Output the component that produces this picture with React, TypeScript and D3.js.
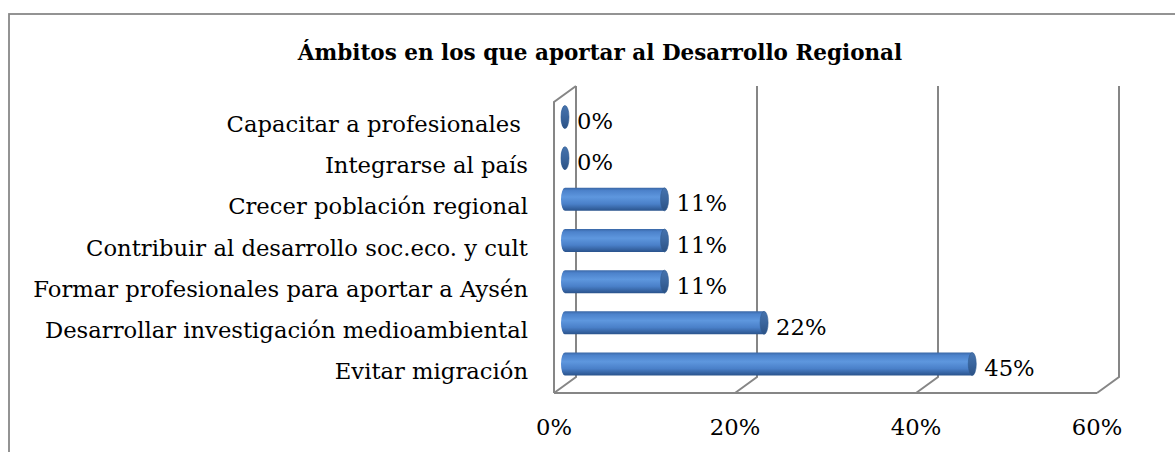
import React, { useRef, useEffect } from 'react';
import * as d3 from 'd3';

const categories = [
  'Capacitar a profesionales ',
  'Integrarse al país',
  'Crecer población regional',
  'Contribuir al desarrollo soc.eco. y cult',
  'Formar profesionales para aportar a Aysén',
  'Desarrollar investigación medioambiental',
  'Evitar migración',
];
const values = [0, 0, 0.11, 0.11, 0.11, 0.22, 0.45];
const valueLabels = ['0%', '0%', '11%', '11%', '11%', '22%', '45%'];
const ticks = [0, 0.2, 0.4, 0.6];
const tickLabels = ['0%', '20%', '40%', '60%'];
const title = 'Ámbitos en los que aportar al Desarrollo Regional';

export default function App() {
  const svgRef = useRef<SVGSVGElement>(null);

  useEffect(() => {
    const w = 1175;
    const h = 452;
    const font = '"DejaVu Serif", serif';
    const svg = d3.select(svgRef.current);
    svg.selectAll('*').remove();
    svg.attr('width', w).attr('height', h).style('display', 'block');

    // 3d depth: front plane vs back wall
    const dx = 11;
    const dy = 8;
    const xMid = d3.scaleLinear().domain([0, 0.6]).range([565, 1108]);
    const xFront = (v: number) => xMid(v) - dx;
    const xBack = (v: number) => xMid(v) + dx;
    const yBars = d3.scalePoint().domain(categories).range([117, 364]);
    const floorMid = 385;
    const wallTop = 94;

    const defs = svg.append('defs');
    const body = defs.append('linearGradient').attr('id', 'cyl')
      .attr('x1', 0).attr('y1', 0).attr('x2', 0).attr('y2', 1);
    [[0, '#3a67a6'], [0.12, '#4c82cb'], [0.4, '#5e97de'], [0.7, '#4a80c9'], [1, '#2a538c']]
      .forEach(([o, c]) => body.append('stop').attr('offset', o).attr('stop-color', c));
    const cap = defs.append('linearGradient').attr('id', 'cap')
      .attr('x1', 0).attr('y1', 0).attr('x2', 0).attr('y2', 1);
    [[0, '#4673ad'], [0.5, '#3a659d'], [1, '#2b5184']]
      .forEach(([o, c]) => cap.append('stop').attr('offset', o).attr('stop-color', c));

    // outer border
    svg.append('rect')
      .attr('x', 9).attr('y', 14).attr('width', w).attr('height', h)
      .attr('fill', 'none').attr('stroke', '#888').attr('stroke-width', 1.8);

    // title
    svg.append('text')
      .attr('x', 600).attr('y', 60)
      .attr('text-anchor', 'middle')
      .style('font-family', font).style('font-weight', 'bold').style('font-size', '21.5px')
      .text(title);

    // walls and grid
    const grid = svg.append('g').attr('stroke', '#868686').attr('stroke-width', 2).attr('fill', 'none');
    const line = d3.line();
    grid.append('path').attr('d', line([
      [xFront(0), floorMid + dy], [xFront(0), wallTop + dy], [xBack(0), wallTop - dy],
    ]));
    grid.append('path').attr('d', line([[xFront(0), floorMid + dy], [xFront(0.6), floorMid + dy]]));
    ticks.forEach((t) => {
      grid.append('path').attr('d', line([
        [xFront(t), floorMid + dy], [xBack(t), floorMid - dy], [xBack(t), wallTop - dy],
      ]));
    });

    // tick labels
    svg.append('g').selectAll('text').data(ticks).join('text')
      .attr('x', (d) => xFront(d))
      .attr('y', 435)
      .attr('text-anchor', 'middle')
      .style('font-family', font).style('font-size', '22.7px')
      .text((d, i) => tickLabels[i]);

    // category labels
    svg.append('g').selectAll('text').data(categories).join('text')
      .attr('x', 528)
      .attr('y', (d) => (yBars(d) as number) + dy + 7)
      .attr('text-anchor', 'end')
      .attr('xml:space', 'preserve')
      .style('white-space', 'pre')
      .style('font-family', font).style('font-size', '22.7px')
      .text((d) => d);

    // cylinders
    const rx = 4;
    const ry = 11.5;
    const bars = svg.append('g').selectAll('g').data(categories).join('g');
    bars.append('path')
      .attr('d', (d, i) => {
        const cy = yBars(d) as number;
        const x0 = xMid(0);
        const x1 = xMid(values[i]);
        return `M${x1},${cy - ry}L${x0},${cy - ry}A${rx},${ry} 0 0 0 ${x0},${cy + ry}L${x1},${cy + ry}Z`;
      })
      .attr('fill', 'url(#cyl)');
    bars.append('ellipse')
      .attr('cx', (d, i) => xMid(values[i]))
      .attr('cy', (d) => yBars(d) as number)
      .attr('rx', rx).attr('ry', ry)
      .attr('fill', 'url(#cap)')
      .attr('stroke', '#2f5a90').attr('stroke-width', 0.6);

    // value labels
    svg.append('g').selectAll('text').data(categories).join('text')
      .attr('x', (d, i) => xMid(values[i]) + 12)
      .attr('y', (d) => (yBars(d) as number) + 12)
      .style('font-family', font).style('font-size', '22.7px')
      .text((d, i) => valueLabels[i]);
  }, []);

  return (
    <>
      <style>{'body{margin:0}'}</style>
      <svg ref={svgRef}></svg>
    </>
  );
}
